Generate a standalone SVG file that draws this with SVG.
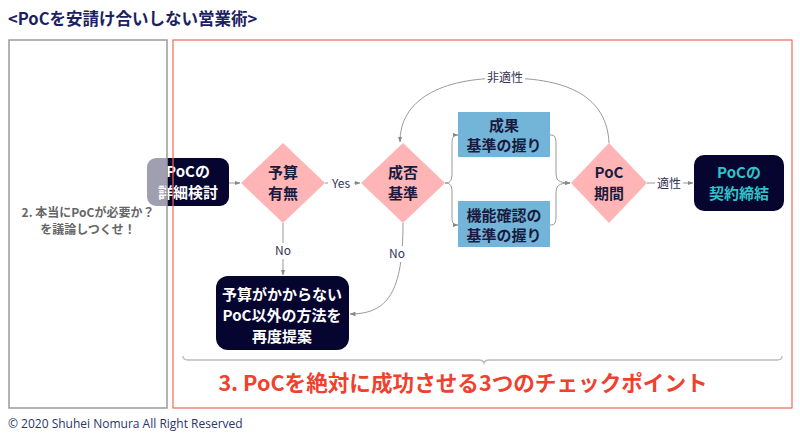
<svg xmlns="http://www.w3.org/2000/svg" width="800" height="437" viewBox="0 0 800 437">
<defs>
<marker id="ah" viewBox="0 0 6 6" refX="5.5" refY="3" markerWidth="6" markerHeight="6" orient="auto" markerUnits="userSpaceOnUse">
<path d="M0,0.8 L6,3 L0,5.2 z" fill="#888"/>
</marker>
<style>
.jp{font-family:"Noto Sans CJK JP","Noto Sans",sans-serif}
.nt{font-family:"Noto Sans CJK JP",sans-serif;font-weight:bold;font-size:15px;text-anchor:middle}
.dark{fill:#050530}
.pink{fill:#ffb5b5}
.blue{fill:#72b5d8}
.con{fill:none;stroke:#999;stroke-width:1}
.lbl{font-family:"Noto Sans CJK JP","Open Sans",sans-serif;font-size:12px;fill:#333355;text-anchor:middle}
.lb{fill:#fff}
</style>
</defs>
<rect width="800" height="437" fill="#fff"/>
<text x="8" y="25" class="jp" font-size="16.5" font-weight="bold" fill="#1b2160">&lt;PoCを安請け合いしない営業術&gt;</text>

<g id="node-shosai">
<rect x="147" y="158" width="82" height="48" rx="9" class="dark"/>
<text class="nt" x="188" y="177" fill="#fff">PoCの</text>
<text class="nt" x="188" y="198" fill="#fff">詳細検討</text>
</g>

<g id="left-panel">
<rect x="9" y="40" width="158" height="368" fill="#fff" fill-opacity="0.62" stroke="#9a9a9a" stroke-width="1.5"/>
<text x="88" y="217" class="jp" font-size="12" font-weight="bold" fill="#666" text-anchor="middle">2. 本当にPoCが必要か？</text>
<text x="88" y="234" class="jp" font-size="12" font-weight="bold" fill="#666" text-anchor="middle">を議論しつくせ！</text>
</g>

<g id="connectors">
<path class="con" d="M229,183 L240,183" marker-end="url(#ah)"/>
<path class="con" d="M325,183 L360,183" marker-end="url(#ah)"/>
<path class="con" d="M283,223 L283,275" marker-end="url(#ah)"/>
<path class="con" d="M403,223 C403,292 388,314 350,314" marker-end="url(#ah)"/>
<path class="con" d="M445,183 C451,183 452,180 452,172 L452,145 C452,137 453,135 458,135" marker-end="url(#ah)"/>
<path class="con" d="M445,183 C451,183 452,186 452,194 L452,216 C452,223 453,225 458,225" marker-end="url(#ah)"/>
<path class="con" d="M550,135 C555,135 556,137 556,145 L556,172 C556,180 558,183 570,183" marker-end="url(#ah)"/>
<path class="con" d="M550,225 C555,225 556,223 556,216 L556,194 C556,186 558,183 570,183" marker-end="url(#ah)"/>
<path class="con" d="M647,183 L693,183" marker-end="url(#ah)"/>
<path class="con" d="M609,143 C607,98 570,78 505,78 C440,78 400,100 400,142" marker-end="url(#ah)"/>
<rect class="lb" x="328" y="175" width="26" height="16"/>
<text class="lbl" x="341" y="188">Yes</text>
<rect class="lb" x="272" y="243" width="22" height="16"/>
<text class="lbl" x="283" y="255">No</text>
<rect class="lb" x="386" y="246" width="22" height="16"/>
<text class="lbl" x="397" y="258">No</text>
<rect class="lb" x="655" y="175" width="28" height="16"/>
<text class="lbl" x="669" y="188">適性</text>
<rect class="lb" x="485" y="70" width="40" height="16"/>
<text class="lbl" x="505" y="82">非適性</text>
</g>

<g id="node-yosan">
<path d="M283,143 L325,183 L283,223 L241,183 z" class="pink"/>
<text class="nt" x="283" y="178" fill="#1a1a40" font-size="16">予算</text>
<text class="nt" x="283" y="199" fill="#1a1a40" font-size="16">有無</text>
</g>

<g id="node-seihi">
<path d="M403,143 L445,183 L403,223 L361,183 z" class="pink"/>
<text class="nt" x="403" y="178" fill="#1a1a40" font-size="16">成否</text>
<text class="nt" x="403" y="199" fill="#1a1a40" font-size="16">基準</text>
</g>

<g id="node-teian">
<rect x="216" y="276" width="133" height="74" rx="12" class="dark"/>
<text class="nt" x="282" y="300" fill="#fff">予算がかからない</text>
<text class="nt" x="282" y="321" fill="#fff">PoC以外の方法を</text>
<text class="nt" x="282" y="342" fill="#fff">再度提案</text>
</g>

<g id="node-seika">
<rect x="458" y="112" width="92" height="45" class="blue"/>
<text class="nt" x="504" y="131" fill="#1a1a40">成果</text>
<text class="nt" x="504" y="151" fill="#1a1a40">基準の握り</text>
</g>

<g id="node-kino">
<rect x="458" y="201" width="92" height="46" class="blue"/>
<text class="nt" x="504" y="221" fill="#1a1a40">機能確認の</text>
<text class="nt" x="504" y="241" fill="#1a1a40">基準の握り</text>
</g>

<g id="node-kikan">
<path d="M609,143 L647,183 L609,223 L571,183 z" class="pink"/>
<text class="nt" x="609" y="178" fill="#1a1a40" font-size="16" font-weight="normal">PoC</text>
<text class="nt" x="609" y="199" fill="#1a1a40" font-size="16">期間</text>
</g>

<g id="node-keiyaku">
<rect x="694" y="155" width="90" height="56" rx="10" class="dark"/>
<text class="nt" x="739" y="178" fill="#2ec4c8" font-weight="normal" font-size="16">PoCの</text>
<text class="nt" x="739" y="199" fill="#2ec4c8" font-size="16">契約締結</text>
</g>

<g id="right-panel">
<rect x="173" y="40" width="619" height="368" fill="none" stroke="#f26a5a" stroke-width="1.2"/>
<path d="M183,356 Q183,360 188,360 L479,360 Q483,360 484,363 Q485,360 489,360 L777,360 Q782,360 782,356" fill="none" stroke="#bbb" stroke-width="1.3"/>
<text x="463" y="391" class="jp" font-size="21.6" font-weight="bold" fill="#f0402e" text-anchor="middle">3. PoCを絶対に成功させる3つのチェックポイント</text>
</g>

<text x="8" y="428" font-family="'Open Sans','Noto Sans',sans-serif" font-size="12" fill="#2a3568">© 2020 Shuhei Nomura All Right Reserved</text>
</svg>
